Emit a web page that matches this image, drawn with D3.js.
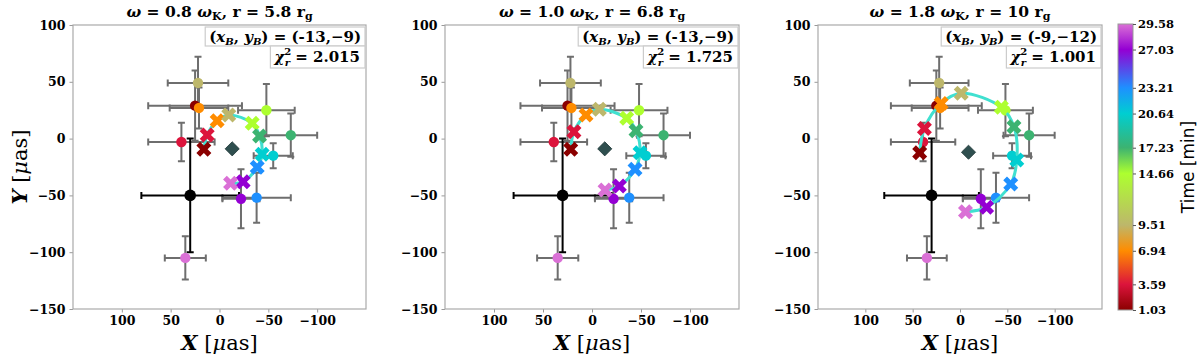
<!DOCTYPE html>
<html><head><meta charset="utf-8">
<script src="https://cdn.jsdelivr.net/npm/d3@7"></script>
<style>body{margin:0;background:#fff}svg{display:block}</style>
</head><body>
<svg id="c" width="1200" height="357"></svg>
<script>
// ---------- data ----------
const times = [1.03, 3.59, 6.94, 9.51, 14.66, 17.23, 20.64, 23.21, 27.03, 29.58];
const timeColors = ["#8B0000","#DC143C","#FF8C00","#BDB76B","#ADFF2F","#3CB371","#00CED1","#1E90FF","#9400D3","#DA70D6"];
const obsX    = [25, 39, 21, 22, -48, -73, -55, -38, -22, 35];
const obsY    = [29, -3, 27, 49, 25, 3, -15, -52, -53, -105];
const obsXerr = [48, 34, 30, 31, 29, 27, 20, 35, 19, 21];
const obsYerr = [31, 17, 18, 23, 23, 19, 11, 22, 26, 19];
const refPoint = {x: 30, y: -50, xerr: 50, yerr: 50};
const xTicks = [100, 50, 0, -50, -100];
const yTicks = [100, 50, 0, -50, -100, -150];
const omegas = ["0.8", "1.0", "1.8"];
const radii = ["5.8", "6.8", "10"];
const blobX = [-13, -13, -9];
const blobY = [-9, -9, -12];
const chi2 = ["2.015", "1.725", "1.001"];
const modelX = [
  [16, 12.6, 2.4, -9.5, -33.5, -41, -43.7, -38.6, -24.2, -11.3],
  [21.7, 18.4, 6.1, -7.5, -35.4, -44.9, -49, -43.9, -27.9, -13.3],
  [42.6, 37.6, 19.9, -1.3, -43.7, -57, -60, -53.6, -28.1, -5.8]
];
const modelY = [
  [-9.4, 3.2, 15.8, 20.8, 13.5, 2.3, -13.8, -25.3, -37.9, -39.4],
  [-9.4, 6.1, 20.8, 25.8, 17.9, 7, -12.4, -27, -41.7, -45.2],
  [-12.4, 9, 31, 39.9, 27.5, 10.5, -18.8, -40, -60.5, -64.3]
];

// ---------- layout ----------
const panels = [{left:73, width:293},{left:445, width:294},{left:818, width:284}];
const yTop = 25, yBot = 309;
const svg = d3.select("#c");
const serif = "'DejaVu Serif', serif";
const color = d3.scaleLinear().domain(times).range(timeColors).interpolate(d3.interpolateRgb);

const xPath = (() => {
  const v = [[-0.25,-0.5],[0,-0.25],[0.25,-0.5],[0.5,-0.25],[0.25,0],[0.5,0.25],[0.25,0.5],[0,0.25],[-0.25,0.5],[-0.5,0.25],[-0.25,0],[-0.5,-0.25]];
  const s = 15;
  return "M" + v.map(p => (p[0]*s).toFixed(2)+","+(p[1]*s).toFixed(2)).join("L") + "Z";
})();

panels.forEach((p, pi) => {
  const x = d3.scaleLinear().domain([150, -150]).range([p.left, p.left + p.width]);
  const y = d3.scaleLinear().domain([-150, 100]).range([yBot, yTop]);
  const g = svg.append("g");

  const xa = g.append("g").attr("transform", `translate(0,${yBot})`)
    .call(d3.axisBottom(x).tickValues(xTicks).tickSize(3.5).tickPadding(4).tickFormat(d => d < 0 ? "\u2212" + (-d) : d));
  const ya = g.append("g").attr("transform", `translate(${p.left},0)`)
    .call(d3.axisLeft(y).tickValues(yTicks).tickSize(3.5).tickPadding(4).tickFormat(d => d < 0 ? "\u2212" + (-d) : d));
  [xa, ya].forEach(a => {
    a.select(".domain").remove();
    a.selectAll("line").attr("stroke", "#999");
    a.selectAll("text").attr("font-family", serif).attr("font-weight", "bold").attr("font-size", 12.5).attr("fill", "#000");
  });
  g.append("rect").attr("x", p.left).attr("y", yTop).attr("width", p.width).attr("height", yBot - yTop)
    .attr("fill", "none").attr("stroke", "#aaa").attr("stroke-width", 1.2);

  const clip = g.append("g");

  const cap = 3.5;
  const eb = clip.append("g").attr("stroke", "#6e6e6e").attr("stroke-width", 2).attr("fill", "none");
  times.forEach((t, i) => {
    const cx = x(obsX[i]), cy = y(obsY[i]);
    const x0 = x(obsX[i] + obsXerr[i]), x1 = x(obsX[i] - obsXerr[i]);
    const y0 = y(obsY[i] + obsYerr[i]), y1 = y(obsY[i] - obsYerr[i]);
    eb.append("path").attr("d",
      `M${x0},${cy}H${x1}M${cx},${y0}V${y1}` +
      `M${x0},${cy-cap}V${cy+cap}M${x1},${cy-cap}V${cy+cap}` +
      `M${cx-cap},${y0}H${cx+cap}M${cx-cap},${y1}H${cx+cap}`);
  });
  {
    const r = refPoint, cx = x(r.x), cy = y(r.y);
    const x0 = x(r.x + r.xerr), x1 = x(r.x - r.xerr), y0 = y(r.y + r.yerr), y1 = y(r.y - r.yerr);
    clip.append("path").attr("stroke", "#000").attr("stroke-width", 2).attr("fill", "none").attr("d",
      `M${x0},${cy}H${x1}M${cx},${y0}V${y1}` +
      `M${x0},${cy-cap}V${cy+cap}M${x1},${cy-cap}V${cy+cap}` +
      `M${cx-cap},${y0}H${cx+cap}M${cx-cap},${y1}H${cx+cap}`);
    clip.append("circle").attr("cx", cx).attr("cy", cy).attr("r", 5.8).attr("fill", "#000");
  }
  clip.selectAll(".obs").data(times).join("circle")
    .attr("cx", (d, i) => x(obsX[i])).attr("cy", (d, i) => y(obsY[i])).attr("r", 5.2)
    .attr("fill", d => color(d));
  const pts = modelX[pi].map((v, i) => [x(v), y(modelY[pi][i])]);
  clip.append("path").attr("d", d3.line().curve(d3.curveCatmullRom)(pts))
    .attr("fill", "none").attr("stroke", "#40E0D0").attr("stroke-width", 3);
  clip.append("rect").attr("x", -5).attr("y", -5).attr("width", 10).attr("height", 10)
    .attr("transform", `translate(${x(blobX[pi])},${y(blobY[pi])}) rotate(45)`)
    .attr("fill", "#2F4F4F").attr("stroke", "#243b3b").attr("stroke-width", 0.8);
  clip.selectAll(".mod").data(times).join("path")
    .attr("d", xPath)
    .attr("transform", (d, i) => `translate(${x(modelX[pi][i])},${y(modelY[pi][i])})`)
    .attr("fill", d => color(d));

  const cxm = p.left + p.width / 2;
  const tt = g.append("text").attr("x", cxm).attr("y", 17).attr("text-anchor", "middle")
    .attr("font-family", serif).attr("font-size", 15.5).attr("font-weight", "bold");
  tt.append("tspan").attr("font-style", "italic").text("\u03C9");
  tt.append("tspan").text(` = ${omegas[pi]} `);
  tt.append("tspan").attr("font-style", "italic").text("\u03C9");
  tt.append("tspan").attr("font-size", 11).attr("dy", 3).text("K");
  tt.append("tspan").attr("dy", -3).text(`, r = ${radii[pi]} r`);
  tt.append("tspan").attr("font-size", 11).attr("dy", 3).text("g");

  const right = p.left + p.width - 1;
  const b1 = g.append("g");
  const t1 = b1.append("text").attr("font-family", serif).attr("font-size", 15).attr("font-weight", "bold");
  t1.append("tspan").text("(");
  t1.append("tspan").attr("font-style", "italic").text("x");
  t1.append("tspan").attr("font-style", "italic").attr("font-size", 10).attr("dy", 3).text("B");
  t1.append("tspan").attr("dy", -3).text(", ");
  t1.append("tspan").attr("font-style", "italic").text("y");
  t1.append("tspan").attr("font-style", "italic").attr("font-size", 10).attr("dy", 3).text("B");
  t1.append("tspan").attr("dy", -3).text(`) = (${blobX[pi]},\u2212${-blobY[pi]})`);
  const w1 = t1.node().getComputedTextLength();
  t1.attr("x", right - 4 - w1).attr("y", 42);
  b1.insert("rect", "text").attr("x", right - w1 - 8).attr("y", 27).attr("width", w1 + 8).attr("height", 19)
    .attr("fill", "#fff").attr("stroke", "#ccc").attr("stroke-width", 1.2);

  const b2 = g.append("g");
  const t2 = b2.append("text").attr("font-family", serif).attr("font-size", 15).attr("font-weight", "bold");
  t2.append("tspan").attr("font-style", "italic").text("\u03C7");
  t2.append("tspan").attr("font-size", 10).attr("dy", -7).text("2");
  t2.append("tspan").attr("font-size", 10).attr("font-style", "italic").attr("dx", -6.5).attr("dy", 11).text("r");
  t2.append("tspan").attr("dy", -4).text(` = ${chi2[pi]}`);
  const w2 = t2.node().getBBox().width;
  t2.attr("x", right - 4 - w2).attr("y", 62);
  b2.insert("rect", "text").attr("x", right - w2 - 8).attr("y", 46).attr("width", w2 + 8).attr("height", 22)
    .attr("fill", "#fff").attr("stroke", "#ccc").attr("stroke-width", 1.2);

  const xl = g.append("text").attr("x", cxm).attr("y", 350).attr("text-anchor", "middle")
    .attr("font-family", serif).attr("font-size", 21);
  xl.append("tspan").attr("font-weight", "bold").attr("font-style", "italic").text("X");
  xl.append("tspan").text(" [");
  xl.append("tspan").attr("font-style", "italic").text("\u03BC");
  xl.append("tspan").text("as]");
});

{
  const yl = svg.append("text").attr("transform", `translate(27,${(yTop + yBot) / 2}) rotate(-90)`)
    .attr("text-anchor", "middle").attr("font-family", serif).attr("font-size", 21);
  yl.append("tspan").attr("font-weight", "bold").attr("font-style", "italic").text("Y");
  yl.append("tspan").text(" [");
  yl.append("tspan").attr("font-style", "italic").text("\u03BC");
  yl.append("tspan").text("as]");
}

{
  const cb = {x: 1118, w: 15};
  const cy = d3.scaleLinear().domain([times[0], times[times.length - 1]]).range([yBot + 1, yTop - 1]);
  const grad = svg.append("defs").append("linearGradient").attr("id", "cbg")
    .attr("x1", 0).attr("y1", 1).attr("x2", 0).attr("y2", 0);
  const t0 = times[0], tr = times[times.length - 1] - t0;
  times.forEach((t, i) => grad.append("stop").attr("offset", (t - t0) / tr).attr("stop-color", timeColors[i]));
  svg.append("rect").attr("x", cb.x).attr("y", cy.range()[1]).attr("width", cb.w)
    .attr("height", cy.range()[0] - cy.range()[1]).attr("fill", "url(#cbg)").attr("stroke", "#999").attr("stroke-width", 1);
  const ax = svg.append("g").attr("transform", `translate(${cb.x + cb.w},0)`)
    .call(d3.axisRight(cy).tickValues(times).tickSize(3).tickPadding(2).tickFormat(d3.format(".2f")));
  ax.select(".domain").remove();
  ax.selectAll("line").attr("stroke", "#555");
  ax.selectAll("text").attr("font-family", serif).attr("font-weight", "bold").attr("font-size", 11.5).attr("fill", "#000");
  svg.append("text").attr("transform", `translate(1194,${(yTop + yBot) / 2}) rotate(-90)`)
    .attr("text-anchor", "middle").attr("font-family", "'DejaVu Sans', sans-serif").attr("font-size", 17).text("Time [min]");
}
</script>
</body></html>
